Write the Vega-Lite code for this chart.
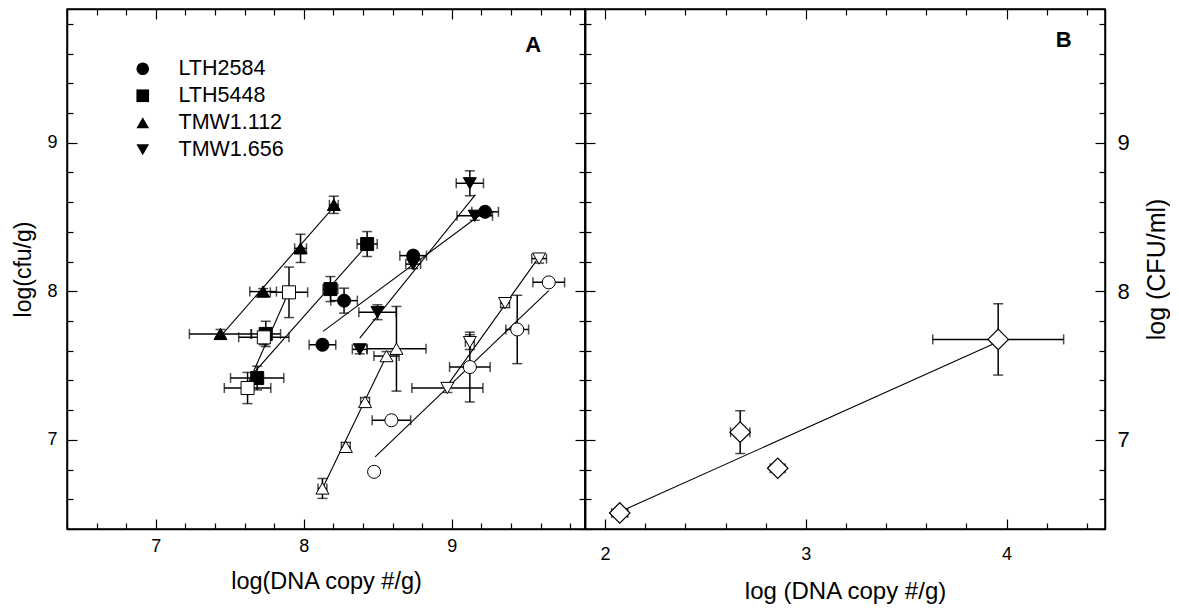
{
  "$schema": "https://vega.github.io/schema/vega-lite/v6.json",
  "padding": {"left": 12, "top": 7, "right": 0, "bottom": 0},
  "autosize": {"type": "pad"},
  "spacing": 0,
  "bounds": "flush",
  "config": {
    "view": {"stroke": "black", "strokeWidth": 1.5},
    "font": "Liberation Sans",
    "axis": {"domainColor": "black", "domainWidth": 1.5, "tickColor": "black", "tickWidth": 1.2, "labelColor": "black", "titleColor": "black", "labelFont": "Liberation Sans", "titleFont": "Liberation Sans", "titleFontWeight": "normal", "grid": false}
  },
  "datasets": {
    "ptsA": [
      {"strain": "LTH2584", "kind": "filled", "x": 8.126, "y": 7.640, "xlo": 8.036, "xhi": 8.216, "ylo": 7.61, "yhi": 7.67},
      {"strain": "LTH2584", "kind": "filled", "x": 8.272, "y": 7.937, "xlo": 8.182, "xhi": 8.362, "ylo": 7.853, "yhi": 8.021},
      {"strain": "LTH2584", "kind": "filled", "x": 8.739, "y": 8.240, "xlo": 8.649, "xhi": 8.829, "ylo": 8.21, "yhi": 8.27},
      {"strain": "LTH2584", "kind": "filled", "x": 9.225, "y": 8.535, "xlo": 9.135, "xhi": 9.315, "ylo": 8.505, "yhi": 8.565},
      {"strain": "LTH5448", "kind": "filled", "x": 7.685, "y": 7.416, "xlo": 7.505, "xhi": 7.865, "ylo": 7.336, "yhi": 7.496},
      {"strain": "LTH5448", "kind": "filled", "x": 7.743, "y": 7.713, "xlo": 7.643, "xhi": 7.843, "ylo": 7.628, "yhi": 7.798},
      {"strain": "LTH5448", "kind": "filled", "x": 8.180, "y": 8.015, "xlo": 8.13, "xhi": 8.23, "ylo": 7.931, "yhi": 8.099},
      {"strain": "LTH5448", "kind": "filled", "x": 8.428, "y": 8.318, "xlo": 8.36, "xhi": 8.496, "ylo": 8.234, "yhi": 8.402},
      {"strain": "TMW1.112", "kind": "filled", "x": 7.437, "y": 7.713, "xlo": 7.227, "xhi": 7.647, "ylo": 7.683, "yhi": 7.743},
      {"strain": "TMW1.112", "kind": "filled", "x": 7.725, "y": 7.998, "xlo": 7.635, "xhi": 7.815, "ylo": 7.978, "yhi": 8.018},
      {"strain": "TMW1.112", "kind": "filled", "x": 7.978, "y": 8.289, "xlo": 7.938, "xhi": 8.018, "ylo": 8.194, "yhi": 8.384},
      {"strain": "TMW1.112", "kind": "filled", "x": 8.203, "y": 8.582, "xlo": 8.173, "xhi": 8.233, "ylo": 8.524, "yhi": 8.64},
      {"strain": "TMW1.656", "kind": "filled", "x": 8.378, "y": 7.609, "xlo": 8.328, "xhi": 8.428, "ylo": 7.579, "yhi": 7.639},
      {"strain": "TMW1.656", "kind": "filled", "x": 8.498, "y": 7.859, "xlo": 8.372, "xhi": 8.624, "ylo": 7.809, "yhi": 7.909},
      {"strain": "TMW1.656", "kind": "filled", "x": 8.739, "y": 8.183, "xlo": 8.689, "xhi": 8.789, "ylo": 8.153, "yhi": 8.213},
      {"strain": "TMW1.656", "kind": "filled", "x": 9.122, "y": 8.727, "xlo": 9.03, "xhi": 9.214, "ylo": 8.643, "yhi": 8.811},
      {"strain": "TMW1.656", "kind": "filled", "x": 9.155, "y": 8.508, "xlo": 9.035, "xhi": 9.275, "ylo": 8.478, "yhi": 8.538},
      {"strain": "LTH2584", "kind": "open", "x": 8.475, "y": 6.785, "xlo": 8.445, "xhi": 8.505, "ylo": 6.765, "yhi": 6.805},
      {"strain": "LTH2584", "kind": "open", "x": 8.592, "y": 7.132, "xlo": 8.462, "xhi": 8.722, "ylo": 7.112, "yhi": 7.152},
      {"strain": "LTH2584", "kind": "open", "x": 9.122, "y": 7.490, "xlo": 8.985, "xhi": 9.259, "ylo": 7.255, "yhi": 7.725},
      {"strain": "LTH2584", "kind": "open", "x": 9.442, "y": 7.743, "xlo": 9.365, "xhi": 9.519, "ylo": 7.513, "yhi": 7.973},
      {"strain": "LTH2584", "kind": "open", "x": 9.655, "y": 8.060, "xlo": 9.548, "xhi": 9.762, "ylo": 8.04, "yhi": 8.08},
      {"strain": "LTH5448", "kind": "open", "x": 7.620, "y": 7.349, "xlo": 7.463, "xhi": 7.777, "ylo": 7.244, "yhi": 7.454},
      {"strain": "LTH5448", "kind": "open", "x": 7.730, "y": 7.690, "xlo": 7.56, "xhi": 7.9, "ylo": 7.64, "yhi": 7.74},
      {"strain": "LTH5448", "kind": "open", "x": 7.900, "y": 7.993, "xlo": 7.774, "xhi": 8.026, "ylo": 7.823, "yhi": 8.163},
      {"strain": "TMW1.112", "kind": "open", "x": 8.126, "y": 6.673, "xlo": 8.096, "xhi": 8.156, "ylo": 6.606, "yhi": 6.74},
      {"strain": "TMW1.112", "kind": "open", "x": 8.284, "y": 6.953, "xlo": 8.254, "xhi": 8.314, "ylo": 6.923, "yhi": 6.983},
      {"strain": "TMW1.112", "kind": "open", "x": 8.414, "y": 7.255, "xlo": 8.384, "xhi": 8.444, "ylo": 7.225, "yhi": 7.285},
      {"strain": "TMW1.112", "kind": "open", "x": 8.559, "y": 7.564, "xlo": 8.474, "xhi": 8.644, "ylo": 7.534, "yhi": 7.594},
      {"strain": "TMW1.112", "kind": "open", "x": 8.626, "y": 7.613, "xlo": 8.426, "xhi": 8.826, "ylo": 7.328, "yhi": 7.898},
      {"strain": "TMW1.656", "kind": "open", "x": 8.970, "y": 7.349, "xlo": 8.73, "xhi": 9.21, "ylo": 7.319, "yhi": 7.379},
      {"strain": "TMW1.656", "kind": "open", "x": 9.122, "y": 7.658, "xlo": 9.092, "xhi": 9.152, "ylo": 7.608, "yhi": 7.708},
      {"strain": "TMW1.656", "kind": "open", "x": 9.360, "y": 7.920, "xlo": 9.33, "xhi": 9.39, "ylo": 7.89, "yhi": 7.95},
      {"strain": "TMW1.656", "kind": "open", "x": 9.590, "y": 8.220, "xlo": 9.54, "xhi": 9.64, "ylo": 8.19, "yhi": 8.25}
    ],
    "linesA": [
      {"series": "TMW1.112 filled", "x": 7.44, "y": 7.70},
      {"series": "TMW1.112 filled", "x": 8.20, "y": 8.565},
      {"series": "LTH5448 filled", "x": 7.647, "y": 7.434},
      {"series": "LTH5448 filled", "x": 8.40, "y": 8.28},
      {"series": "LTH2584 filled", "x": 8.13, "y": 7.73},
      {"series": "LTH2584 filled", "x": 9.20, "y": 8.52},
      {"series": "TMW1.656 filled", "x": 8.378, "y": 7.685},
      {"series": "TMW1.656 filled", "x": 9.16, "y": 8.65},
      {"series": "LTH5448 open", "x": 7.624, "y": 7.378},
      {"series": "LTH5448 open", "x": 7.887, "y": 7.97},
      {"series": "TMW1.112 open", "x": 8.126, "y": 6.673},
      {"series": "TMW1.112 open", "x": 8.561, "y": 7.57},
      {"series": "LTH2584 open", "x": 8.482, "y": 6.886},
      {"series": "LTH2584 open", "x": 9.655, "y": 8.005},
      {"series": "TMW1.656 open", "x": 8.97, "y": 7.367},
      {"series": "TMW1.656 open", "x": 9.572, "y": 8.206}
    ],
    "ptsB": [
      {"x": 2.073, "y": 6.508, "xlo": 2.033, "xhi": 2.113, "ylo": 6.478, "yhi": 6.538},
      {"x": 2.673, "y": 7.052, "xlo": 2.625, "xhi": 2.721, "ylo": 6.908, "yhi": 7.196},
      {"x": 2.860, "y": 6.809, "xlo": 2.823, "xhi": 2.897, "ylo": 6.789, "yhi": 6.829},
      {"x": 3.958, "y": 7.676, "xlo": 3.632, "xhi": 4.284, "ylo": 7.436, "yhi": 7.916}
    ],
    "linesB": [
      {"x": 2.08, "y": 6.52},
      {"x": 3.95, "y": 7.655}
    ]
  },
  "hconcat": [
    {
      "width": 518,
      "height": 520,
      "resolve": {"axis": {"x": "independent", "y": "independent"}},
      "layer": [
        {
          "data": {"name": "linesA"},
          "mark": {"type": "line", "color": "black", "strokeWidth": 1.1},
          "encoding": {
            "x": {"field": "x", "type": "quantitative", "scale": {"domain": [6.4, 9.9], "nice": false, "zero": false},
              "axis": {"orient": "bottom", "title": "log(DNA copy #/g)", "values": [6.4,6.6,6.8,7,7.2,7.4,7.6,7.8,8,8.2,8.4,8.6,8.8,9,9.2,9.4,9.6,9.8],
                "labelExpr": "abs(datum.value - round(datum.value)) < 0.001 ? '' + round(datum.value) : ''",
                "tickSize": {"condition": {"test": "abs(datum.value - round(datum.value)) < 0.001", "value": -10}, "value": -6},
                "labelFontSize": 18, "titleFontSize": 23.5, "labelPadding": 18, "titlePadding": 14}},
            "y": {"field": "y", "type": "quantitative", "scale": {"domain": [6.4, 9.9], "nice": false, "zero": false},
              "axis": {"orient": "left", "title": "log(cfu/g)", "values": [6.4,6.6,6.8,7,7.2,7.4,7.6,7.8,8,8.2,8.4,8.6,8.8,9,9.2,9.4,9.6,9.8],
                "labelExpr": "abs(datum.value - round(datum.value)) < 0.001 ? '' + round(datum.value) : ''",
                "tickSize": {"condition": {"test": "abs(datum.value - round(datum.value)) < 0.001", "value": -10}, "value": -6},
                "labelFontSize": 18, "titleFontSize": 23, "labelPadding": 20, "titlePadding": 11}},
            "detail": {"field": "series", "type": "nominal"}
          }
        },
        {
          "data": {"name": "ptsA"},
          "mark": {"type": "rule", "color": "black", "strokeWidth": 1.5},
          "encoding": {
            "x": {"field": "xlo", "type": "quantitative", "scale": {"domain": [6.4, 9.9], "nice": false, "zero": false},
              "axis": {"orient": "top", "title": null, "labels": false, "values": [6.4,6.6,6.8,7,7.2,7.4,7.6,7.8,8,8.2,8.4,8.6,8.8,9,9.2,9.4,9.6,9.8],
                "tickSize": {"condition": {"test": "abs(datum.value - round(datum.value)) < 0.001", "value": -10}, "value": -6}}},
            "x2": {"field": "xhi"},
            "y": {"field": "y", "type": "quantitative", "scale": {"domain": [6.4, 9.9], "nice": false, "zero": false},
              "axis": {"orient": "right", "title": null, "labels": false, "values": [6.4,6.6,6.8,7,7.2,7.4,7.6,7.8,8,8.2,8.4,8.6,8.8,9,9.2,9.4,9.6,9.8],
                "tickSize": {"condition": {"test": "abs(datum.value - round(datum.value)) < 0.001", "value": -10}, "value": -6}}}
          }
        },
        {
          "data": {"name": "ptsA"},
          "mark": {"type": "rule", "color": "black", "strokeWidth": 1.5},
          "encoding": {
            "x": {"field": "x", "type": "quantitative", "axis": null},
            "y": {"field": "ylo", "type": "quantitative", "axis": null},
            "y2": {"field": "yhi"}
          }
        },
        {
          "data": {"name": "ptsA"},
          "mark": {"type": "tick", "orient": "vertical", "color": "black", "size": 10, "thickness": 1.5},
          "encoding": {
            "x": {"field": "xlo", "type": "quantitative", "axis": null},
            "y": {"field": "y", "type": "quantitative", "axis": null}
          }
        },
        {
          "data": {"name": "ptsA"},
          "mark": {"type": "tick", "orient": "vertical", "color": "black", "size": 10, "thickness": 1.5},
          "encoding": {
            "x": {"field": "xhi", "type": "quantitative", "axis": null},
            "y": {"field": "y", "type": "quantitative", "axis": null}
          }
        },
        {
          "data": {"name": "ptsA"},
          "mark": {"type": "tick", "orient": "horizontal", "color": "black", "size": 10, "thickness": 1.5},
          "encoding": {
            "x": {"field": "x", "type": "quantitative", "axis": null},
            "y": {"field": "ylo", "type": "quantitative", "axis": null}
          }
        },
        {
          "data": {"name": "ptsA"},
          "mark": {"type": "tick", "orient": "horizontal", "color": "black", "size": 10, "thickness": 1.5},
          "encoding": {
            "x": {"field": "x", "type": "quantitative", "axis": null},
            "y": {"field": "yhi", "type": "quantitative", "axis": null}
          }
        },
        {
          "data": {"name": "ptsA"},
          "mark": {"type": "point", "filled": true, "size": 170, "stroke": "black", "strokeWidth": 1, "opacity": 1},
          "encoding": {
            "x": {"field": "x", "type": "quantitative", "axis": null},
            "y": {"field": "y", "type": "quantitative", "axis": null},
            "shape": {"field": "strain", "type": "nominal",
              "scale": {"domain": ["LTH2584", "LTH5448", "TMW1.112", "TMW1.656"], "range": ["circle", "square", "triangle-up", "triangle-down"]},
              "legend": {"title": null, "orient": "none", "legendX": 65, "legendY": 49, "labelFontSize": 21.5, "labelFont": "Liberation Sans", "labelColor": "black",
                "symbolSize": 160, "symbolFillColor": "black", "symbolStrokeColor": "black", "symbolStrokeWidth": 0, "rowPadding": 4, "labelOffset": 25,
                "symbolOpacity": 1}},
            "fill": {"field": "kind", "type": "nominal", "scale": {"domain": ["filled", "open"], "range": ["black", "white"]}, "legend": null}
          }
        },
        {
          "data": {"values": [{"label": "A", "x": 9.55, "y": 9.655}]},
          "mark": {"type": "text", "fontSize": 22, "fontWeight": "bold", "font": "Liberation Sans", "color": "black", "align": "center", "baseline": "middle"},
          "encoding": {
            "x": {"field": "x", "type": "quantitative", "axis": null},
            "y": {"field": "y", "type": "quantitative", "axis": null},
            "text": {"field": "label"}
          }
        }
      ]
    },
    {
      "width": 520,
      "height": 520,
      "resolve": {"axis": {"x": "independent", "y": "independent"}},
      "layer": [
        {
          "data": {"name": "linesB"},
          "mark": {"type": "line", "color": "black", "strokeWidth": 1.1},
          "encoding": {
            "x": {"field": "x", "type": "quantitative", "scale": {"domain": [1.9, 4.49], "nice": false, "zero": false},
              "axis": {"orient": "bottom", "title": "log (DNA copy #/g)", "values": [2,2.2,2.4,2.6,2.8,3,3.2,3.4,3.6,3.8,4,4.2,4.4],
                "labelExpr": "abs(datum.value - round(datum.value)) < 0.001 ? '' + round(datum.value) : ''",
                "tickSize": {"condition": {"test": "abs(datum.value - round(datum.value)) < 0.001", "value": -10}, "value": -6},
                "labelFontSize": 18, "titleFontSize": 24, "labelPadding": 26, "titlePadding": 16}},
            "y": {"field": "y", "type": "quantitative", "scale": {"domain": [6.4, 9.9], "nice": false, "zero": false},
              "axis": {"orient": "right", "title": "log (CFU/ml)", "titleAngle": 270, "titleBaseline": "top", "values": [6.4,6.6,6.8,7,7.2,7.4,7.6,7.8,8,8.2,8.4,8.6,8.8,9,9.2,9.4,9.6,9.8],
                "labelExpr": "abs(datum.value - round(datum.value)) < 0.001 ? '' + round(datum.value) : ''",
                "tickSize": {"condition": {"test": "abs(datum.value - round(datum.value)) < 0.001", "value": -10}, "value": -6},
                "labelFontSize": 22, "titleFontSize": 25, "labelPadding": 22, "titlePadding": 15}}
          }
        },
        {
          "data": {"name": "ptsB"},
          "mark": {"type": "rule", "color": "black", "strokeWidth": 1.5},
          "encoding": {
            "x": {"field": "xlo", "type": "quantitative", "scale": {"domain": [1.9, 4.49], "nice": false, "zero": false},
              "axis": {"orient": "top", "title": null, "labels": false, "values": [2,2.2,2.4,2.6,2.8,3,3.2,3.4,3.6,3.8,4,4.2,4.4],
                "tickSize": {"condition": {"test": "abs(datum.value - round(datum.value)) < 0.001", "value": -10}, "value": -6}}},
            "x2": {"field": "xhi"},
            "y": {"field": "y", "type": "quantitative", "scale": {"domain": [6.4, 9.9], "nice": false, "zero": false},
              "axis": {"orient": "left", "title": null, "labels": false, "values": [6.4,6.6,6.8,7,7.2,7.4,7.6,7.8,8,8.2,8.4,8.6,8.8,9,9.2,9.4,9.6,9.8],
                "tickSize": {"condition": {"test": "abs(datum.value - round(datum.value)) < 0.001", "value": -10}, "value": -6}}}
          }
        },
        {
          "data": {"name": "ptsB"},
          "mark": {"type": "rule", "color": "black", "strokeWidth": 1.5},
          "encoding": {
            "x": {"field": "x", "type": "quantitative", "axis": null},
            "y": {"field": "ylo", "type": "quantitative", "axis": null},
            "y2": {"field": "yhi"}
          }
        },
        {
          "data": {"name": "ptsB"},
          "mark": {"type": "tick", "orient": "vertical", "color": "black", "size": 10, "thickness": 1.5},
          "encoding": {
            "x": {"field": "xlo", "type": "quantitative", "axis": null},
            "y": {"field": "y", "type": "quantitative", "axis": null}
          }
        },
        {
          "data": {"name": "ptsB"},
          "mark": {"type": "tick", "orient": "vertical", "color": "black", "size": 10, "thickness": 1.5},
          "encoding": {
            "x": {"field": "xhi", "type": "quantitative", "axis": null},
            "y": {"field": "y", "type": "quantitative", "axis": null}
          }
        },
        {
          "data": {"name": "ptsB"},
          "mark": {"type": "tick", "orient": "horizontal", "color": "black", "size": 10, "thickness": 1.5},
          "encoding": {
            "x": {"field": "x", "type": "quantitative", "axis": null},
            "y": {"field": "ylo", "type": "quantitative", "axis": null}
          }
        },
        {
          "data": {"name": "ptsB"},
          "mark": {"type": "tick", "orient": "horizontal", "color": "black", "size": 10, "thickness": 1.5},
          "encoding": {
            "x": {"field": "x", "type": "quantitative", "axis": null},
            "y": {"field": "yhi", "type": "quantitative", "axis": null}
          }
        },
        {
          "data": {"name": "ptsB"},
          "mark": {"type": "point", "shape": "diamond", "filled": true, "fill": "white", "size": 420, "stroke": "black", "strokeWidth": 1.2, "opacity": 1},
          "encoding": {
            "x": {"field": "x", "type": "quantitative", "axis": null},
            "y": {"field": "y", "type": "quantitative", "axis": null}
          }
        },
        {
          "data": {"values": [{"label": "B", "x": 4.284, "y": 9.69}]},
          "mark": {"type": "text", "fontSize": 22, "fontWeight": "bold", "font": "Liberation Sans", "color": "black", "align": "center", "baseline": "middle"},
          "encoding": {
            "x": {"field": "x", "type": "quantitative", "axis": null},
            "y": {"field": "y", "type": "quantitative", "axis": null},
            "text": {"field": "label"}
          }
        }
      ]
    }
  ]
}
